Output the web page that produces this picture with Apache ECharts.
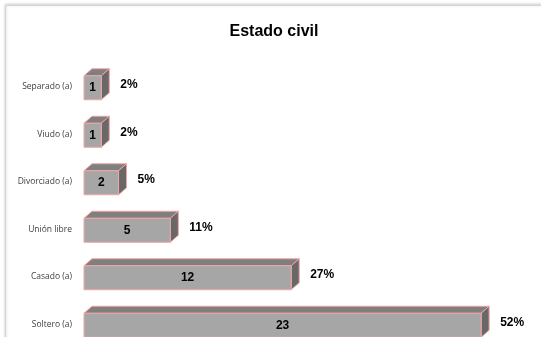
<!DOCTYPE html>
<html>
<head>
<meta charset="utf-8">
<script src="https://cdn.jsdelivr.net/npm/echarts@6/dist/echarts.min.js"></script>
<style>
html,body{margin:0;padding:0;background:#fff;}
#chart{width:541px;height:337px;}
</style>
</head>
<body>
<div id="chart"></div>
<script>
// Marital status counts, listed top to bottom
const categories = ['Separado (a)', 'Viudo (a)', 'Divorciado (a)', 'Unión libre', 'Casado (a)', 'Soltero (a)'];
const counts = [1, 1, 2, 5, 12, 23];

const total = counts.reduce((a, b) => a + b, 0);
const percents = counts.map(v => Math.round(v / total * 100));

const chart = echarts.init(document.getElementById('chart'), null, { renderer: 'canvas' });

const FRONT = '#a6a6a6', TOP = '#7f7f7f', SIDE = '#686868', EDGE = '#f2a3a3';
const BAR_H = 24, DX = 8, DY = 7;

function renderBox(params, api) {
  const idx = api.value(0);
  const val = api.value(1);
  const start = api.coord([0, idx]);
  const end = api.coord([val, idx]);
  const x0 = start[0], x1 = end[0], cy = start[1] + 1;
  const y0 = cy - BAR_H / 2, y1 = cy + BAR_H / 2;
  const edge = { stroke: EDGE, lineWidth: 1 };
  return {
    type: 'group',
    children: [
      { type: 'polygon', shape: { points: [[x0, y0], [x0 + DX, y0 - DY], [x1 + DX, y0 - DY], [x1, y0]] },
        style: Object.assign({ fill: TOP }, edge) },
      { type: 'polygon', shape: { points: [[x1, y0], [x1 + DX, y0 - DY], [x1 + DX, y1 - DY], [x1, y1]] },
        style: Object.assign({ fill: SIDE }, edge) },
      { type: 'rect', shape: { x: x0, y: y0, width: x1 - x0, height: BAR_H },
        style: Object.assign({ fill: FRONT }, edge) },
      { type: 'text', x: (x0 + x1) / 2, y: cy,
        style: { text: String(val), fill: '#000', font: 'bold 12px Arial, "Liberation Sans", sans-serif',
                 align: 'center', verticalAlign: 'middle' } },
      { type: 'text', x: x1 + DX + 11, y: cy - 3,
        style: { text: percents[idx] + '%', fill: '#000', font: 'bold 12px Arial, "Liberation Sans", sans-serif',
                 align: 'left', verticalAlign: 'middle' } }
    ]
  };
}

chart.setOption({
  animation: false,
  backgroundColor: '#fff',
  graphic: [{
    type: 'rect', z: -10, silent: true,
    shape: { x: 5.5, y: 5.5, width: 600, height: 400 },
    style: { fill: '#fff', stroke: '#d4d4d4', lineWidth: 1,
             shadowBlur: 3, shadowColor: 'rgba(0,0,0,0.25)', shadowOffsetX: 0, shadowOffsetY: -1 }
  }],
  title: {
    text: 'Estado civil',
    left: 269, top: 19, textAlign: 'center',
    textStyle: { fontFamily: 'Arial, "Liberation Sans", sans-serif', fontWeight: 'bold', fontSize: 16, color: '#000' }
  },
  grid: { left: 84, top: 63, width: 518, height: 285, outerBoundsMode: 'none', containLabel: false },
  xAxis: {
    type: 'value', min: 0, max: 30, show: false
  },
  yAxis: {
    type: 'category', data: categories, inverse: true,
    axisLine: { show: false }, axisTick: { show: false }, splitLine: { show: false },
    axisLabel: { margin: 12, fontSize: 8.5, color: '#404040', fontFamily: '"Open Sans", "DejaVu Sans", sans-serif' }
  },
  series: [{
    type: 'custom',
    renderItem: renderBox,
    encode: { x: 1, y: 0 },
    data: counts.map((v, i) => [i, v]),
    clip: false
  }]
});
</script>
</body>
</html>
